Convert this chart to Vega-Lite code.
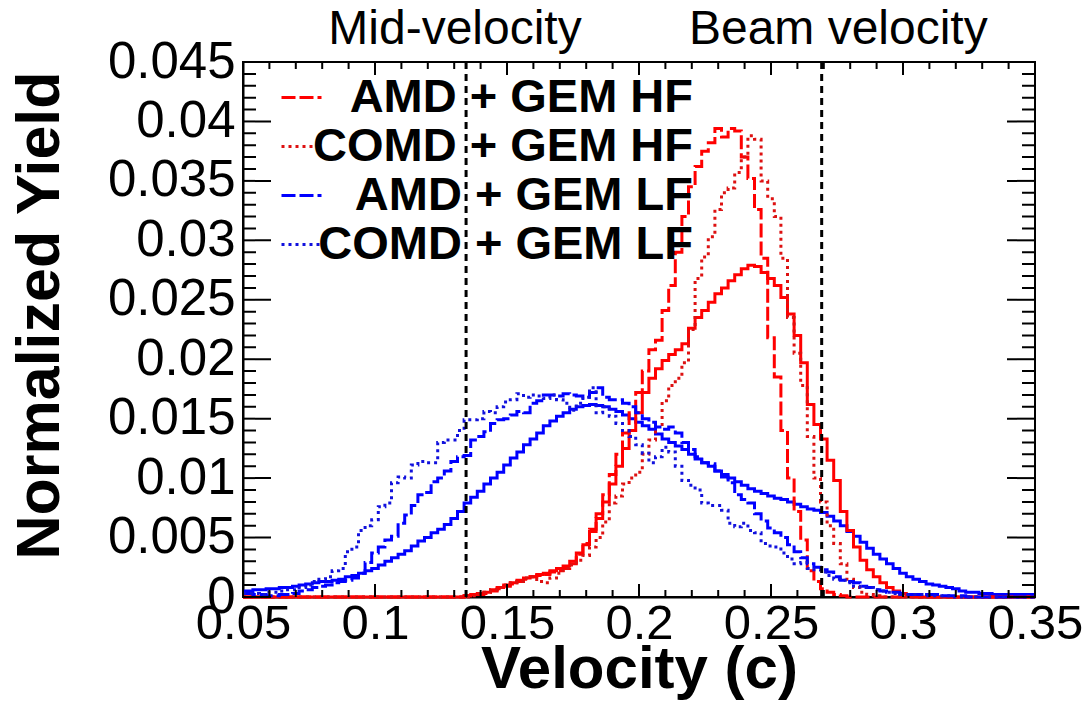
{
  "$schema": "https://vega.github.io/schema/vega-lite/v6.json",
  "width": 792,
  "height": 535,
  "autosize": "none",
  "padding": {"left": 243, "top": 62, "right": 57, "bottom": 109},
  "background": "white",
  "config": {
    "view": {"stroke": "black", "strokeWidth": 2},
    "font": "Liberation Sans",
    "axis": {"domainColor": "black", "domainWidth": 2, "tickColor": "black", "tickWidth": 2, "tickOpacity": 1, "grid": false, "labelColor": "black", "titleColor": "black", "labelFont": "Liberation Sans", "titleFont": "Liberation Sans", "labelOverlap": false, "labelFlush": false}
  },
  "datasets": {
    "xmaj": [{"t":0.05},{"t":0.1},{"t":0.15},{"t":0.2},{"t":0.25},{"t":0.3},{"t":0.35}],
    "xmin": [{"t":0.06},{"t":0.07},{"t":0.08},{"t":0.09},{"t":0.11},{"t":0.12},{"t":0.13},{"t":0.14},{"t":0.16},{"t":0.17},{"t":0.18},{"t":0.19},{"t":0.21},{"t":0.22},{"t":0.23},{"t":0.24},{"t":0.26},{"t":0.27},{"t":0.28},{"t":0.29},{"t":0.31},{"t":0.32},{"t":0.33},{"t":0.34}],
    "ymaj": [{"t":0},{"t":0.005},{"t":0.01},{"t":0.015},{"t":0.02},{"t":0.025},{"t":0.03},{"t":0.035},{"t":0.04},{"t":0.045}],
    "ymin": [{"t":0.001},{"t":0.002},{"t":0.003},{"t":0.004},{"t":0.006},{"t":0.007},{"t":0.008},{"t":0.009},{"t":0.011},{"t":0.012},{"t":0.013},{"t":0.014},{"t":0.016},{"t":0.017},{"t":0.018},{"t":0.019},{"t":0.021},{"t":0.022},{"t":0.023},{"t":0.024},{"t":0.026},{"t":0.027},{"t":0.028},{"t":0.029},{"t":0.031},{"t":0.032},{"t":0.033},{"t":0.034},{"t":0.036},{"t":0.037},{"t":0.038},{"t":0.039},{"t":0.041},{"t":0.042},{"t":0.043},{"t":0.044}]
  },
  "data": {"values": [
    {"v":0.05,"lf":0.0005,"al":0.0003,"cl":0.0003,"hf":0,"ah":0,"ch":0},
    {"v":0.0525,"lf":0.0005,"al":0.0003,"cl":0.0003,"hf":0,"ah":0,"ch":0},
    {"v":0.055,"lf":0.0006,"al":0.0002,"cl":0.0003,"hf":0,"ah":0,"ch":0},
    {"v":0.0575,"lf":0.0006,"al":0.0002,"cl":0.0002,"hf":0,"ah":0,"ch":0},
    {"v":0.06,"lf":0.0007,"al":0.0001,"cl":0.0004,"hf":0,"ah":0,"ch":0},
    {"v":0.0625,"lf":0.0007,"al":0.0001,"cl":0.0004,"hf":0,"ah":0,"ch":0},
    {"v":0.065,"lf":0.0008,"al":0.0002,"cl":0.0005,"hf":0,"ah":0,"ch":0},
    {"v":0.0675,"lf":0.0008,"al":0.0002,"cl":0.0006,"hf":0,"ah":0,"ch":0},
    {"v":0.07,"lf":0.0009,"al":0.0003,"cl":0.0006,"hf":0,"ah":0,"ch":0},
    {"v":0.0725,"lf":0.0010,"al":0.0005,"cl":0.0008,"hf":0,"ah":0,"ch":0},
    {"v":0.075,"lf":0.0011,"al":0.0006,"cl":0.0010,"hf":0,"ah":0,"ch":0},
    {"v":0.0775,"lf":0.0012,"al":0.0008,"cl":0.0013,"hf":0,"ah":0,"ch":0},
    {"v":0.08,"lf":0.0013,"al":0.0009,"cl":0.0015,"hf":0,"ah":0,"ch":0},
    {"v":0.0825,"lf":0.0013,"al":0.0010,"cl":0.0017,"hf":0,"ah":0,"ch":0},
    {"v":0.085,"lf":0.0014,"al":0.0012,"cl":0.0022,"hf":0,"ah":0,"ch":0},
    {"v":0.0875,"lf":0.0015,"al":0.0013,"cl":0.0024,"hf":0,"ah":0,"ch":0},
    {"v":0.09,"lf":0.0017,"al":0.0014,"cl":0.0038,"hf":0,"ah":0,"ch":0},
    {"v":0.0925,"lf":0.0018,"al":0.0016,"cl":0.0042,"hf":0,"ah":0,"ch":0},
    {"v":0.095,"lf":0.0020,"al":0.0020,"cl":0.0056,"hf":0,"ah":0,"ch":0},
    {"v":0.0975,"lf":0.0022,"al":0.0029,"cl":0.0060,"hf":0,"ah":0,"ch":0},
    {"v":0.1,"lf":0.0024,"al":0.0037,"cl":0.0065,"hf":0,"ah":0,"ch":0},
    {"v":0.1025,"lf":0.0027,"al":0.0042,"cl":0.0076,"hf":0,"ah":0,"ch":0},
    {"v":0.105,"lf":0.0030,"al":0.0048,"cl":0.0079,"hf":0,"ah":0,"ch":0},
    {"v":0.1075,"lf":0.0033,"al":0.0051,"cl":0.0096,"hf":0,"ah":0,"ch":0},
    {"v":0.11,"lf":0.0036,"al":0.0062,"cl":0.0101,"hf":0,"ah":0,"ch":0},
    {"v":0.1125,"lf":0.0039,"al":0.0069,"cl":0.0100,"hf":0,"ah":0,"ch":0},
    {"v":0.115,"lf":0.0043,"al":0.0077,"cl":0.0111,"hf":0,"ah":0,"ch":0},
    {"v":0.1175,"lf":0.0047,"al":0.0086,"cl":0.0114,"hf":0,"ah":0,"ch":0},
    {"v":0.12,"lf":0.0050,"al":0.0088,"cl":0.0113,"hf":0,"ah":0,"ch":0},
    {"v":0.1225,"lf":0.0054,"al":0.0097,"cl":0.0113,"hf":0,"ah":0,"ch":0},
    {"v":0.125,"lf":0.0057,"al":0.0100,"cl":0.0130,"hf":0,"ah":0,"ch":0},
    {"v":0.1275,"lf":0.0061,"al":0.0106,"cl":0.0132,"hf":0,"ah":0,"ch":0},
    {"v":0.13,"lf":0.0066,"al":0.0114,"cl":0.0132,"hf":0,"ah":0,"ch":0},
    {"v":0.1325,"lf":0.0072,"al":0.0118,"cl":0.0140,"hf":0,"ah":0,"ch":0},
    {"v":0.135,"lf":0.0079,"al":0.0119,"cl":0.0149,"hf":0.0001,"ah":0.0001,"ch":0},
    {"v":0.1375,"lf":0.0084,"al":0.0132,"cl":0.0149,"hf":0.0002,"ah":0.0002,"ch":0.0001},
    {"v":0.14,"lf":0.0089,"al":0.0135,"cl":0.0150,"hf":0.0003,"ah":0.0002,"ch":0.0003},
    {"v":0.1425,"lf":0.0095,"al":0.0139,"cl":0.0156,"hf":0.0004,"ah":0.0003,"ch":0.0004},
    {"v":0.145,"lf":0.0100,"al":0.0146,"cl":0.0155,"hf":0.0006,"ah":0.0005,"ch":0.0006},
    {"v":0.1475,"lf":0.0105,"al":0.0149,"cl":0.0160,"hf":0.0008,"ah":0.0007,"ch":0.0008},
    {"v":0.15,"lf":0.0111,"al":0.0150,"cl":0.0164,"hf":0.0010,"ah":0.0009,"ch":0.0010},
    {"v":0.1525,"lf":0.0117,"al":0.0153,"cl":0.0166,"hf":0.0012,"ah":0.0011,"ch":0.0012},
    {"v":0.155,"lf":0.0122,"al":0.0156,"cl":0.0171,"hf":0.0014,"ah":0.0013,"ch":0.0013},
    {"v":0.1575,"lf":0.0128,"al":0.0155,"cl":0.0168,"hf":0.0016,"ah":0.0015,"ch":0.0016},
    {"v":0.16,"lf":0.0133,"al":0.0163,"cl":0.0170,"hf":0.0017,"ah":0.0017,"ch":0.0017},
    {"v":0.1625,"lf":0.0138,"al":0.0165,"cl":0.0169,"hf":0.0019,"ah":0.0018,"ch":0.0013},
    {"v":0.165,"lf":0.0144,"al":0.0170,"cl":0.0167,"hf":0.0020,"ah":0.0019,"ch":0.0012},
    {"v":0.1675,"lf":0.0148,"al":0.0170,"cl":0.0170,"hf":0.0022,"ah":0.0021,"ch":0.0016},
    {"v":0.17,"lf":0.0152,"al":0.0169,"cl":0.0166,"hf":0.0024,"ah":0.0022,"ch":0.0020},
    {"v":0.1725,"lf":0.0155,"al":0.0171,"cl":0.0163,"hf":0.0026,"ah":0.0024,"ch":0.0024},
    {"v":0.175,"lf":0.0158,"al":0.0170,"cl":0.0157,"hf":0.0030,"ah":0.0028,"ch":0.0027},
    {"v":0.1775,"lf":0.0160,"al":0.0169,"cl":0.0163,"hf":0.0037,"ah":0.0036,"ch":0.0031},
    {"v":0.18,"lf":0.0161,"al":0.0168,"cl":0.0168,"hf":0.0044,"ah":0.0045,"ch":0.0035},
    {"v":0.1825,"lf":0.0162,"al":0.0172,"cl":0.0176,"hf":0.0055,"ah":0.0057,"ch":0.0042},
    {"v":0.185,"lf":0.0161,"al":0.0176,"cl":0.0155,"hf":0.0066,"ah":0.0070,"ch":0.0050},
    {"v":0.1875,"lf":0.0160,"al":0.0168,"cl":0.0160,"hf":0.0080,"ah":0.0086,"ch":0.0063},
    {"v":0.19,"lf":0.0158,"al":0.0166,"cl":0.0152,"hf":0.0095,"ah":0.0103,"ch":0.0079},
    {"v":0.1925,"lf":0.0156,"al":0.0166,"cl":0.0146,"hf":0.0110,"ah":0.0120,"ch":0.0085},
    {"v":0.195,"lf":0.0153,"al":0.0163,"cl":0.0140,"hf":0.0125,"ah":0.0138,"ch":0.0095},
    {"v":0.1975,"lf":0.0150,"al":0.0160,"cl":0.0135,"hf":0.0140,"ah":0.0155,"ch":0.0100},
    {"v":0.2,"lf":0.0147,"al":0.0155,"cl":0.0128,"hf":0.0155,"ah":0.0172,"ch":0.0105},
    {"v":0.2025,"lf":0.0144,"al":0.0150,"cl":0.0121,"hf":0.0172,"ah":0.0190,"ch":0.0120},
    {"v":0.205,"lf":0.0141,"al":0.0147,"cl":0.0113,"hf":0.0184,"ah":0.0208,"ch":0.0132},
    {"v":0.2075,"lf":0.0137,"al":0.0143,"cl":0.0118,"hf":0.0192,"ah":0.0216,"ch":0.0145},
    {"v":0.21,"lf":0.0133,"al":0.0141,"cl":0.0126,"hf":0.0199,"ah":0.0241,"ch":0.0165},
    {"v":0.2125,"lf":0.0130,"al":0.0143,"cl":0.0122,"hf":0.0204,"ah":0.0262,"ch":0.0178},
    {"v":0.215,"lf":0.0127,"al":0.0138,"cl":0.0110,"hf":0.0208,"ah":0.0290,"ch":0.0184},
    {"v":0.2175,"lf":0.0124,"al":0.0130,"cl":0.0098,"hf":0.0213,"ah":0.0320,"ch":0.0197},
    {"v":0.22,"lf":0.0120,"al":0.0124,"cl":0.0094,"hf":0.0226,"ah":0.0345,"ch":0.0225},
    {"v":0.2225,"lf":0.0116,"al":0.0118,"cl":0.0090,"hf":0.0235,"ah":0.0362,"ch":0.0268},
    {"v":0.225,"lf":0.0113,"al":0.0113,"cl":0.0079,"hf":0.0241,"ah":0.0375,"ch":0.0286},
    {"v":0.2275,"lf":0.0110,"al":0.0112,"cl":0.0077,"hf":0.0248,"ah":0.0382,"ch":0.0303},
    {"v":0.23,"lf":0.0106,"al":0.0106,"cl":0.0077,"hf":0.0255,"ah":0.0394,"ch":0.0326},
    {"v":0.2325,"lf":0.0103,"al":0.0101,"cl":0.0073,"hf":0.0260,"ah":0.0387,"ch":0.0340},
    {"v":0.235,"lf":0.0100,"al":0.0096,"cl":0.0062,"hf":0.0266,"ah":0.0394,"ch":0.0344},
    {"v":0.2375,"lf":0.0097,"al":0.0086,"cl":0.0059,"hf":0.0271,"ah":0.0392,"ch":0.0357},
    {"v":0.24,"lf":0.0094,"al":0.0082,"cl":0.0062,"hf":0.0276,"ah":0.0370,"ch":0.0370},
    {"v":0.2425,"lf":0.0091,"al":0.0079,"cl":0.0056,"hf":0.0279,"ah":0.0352,"ch":0.0388},
    {"v":0.245,"lf":0.0089,"al":0.0070,"cl":0.0054,"hf":0.0278,"ah":0.0326,"ch":0.0385},
    {"v":0.2475,"lf":0.0087,"al":0.0064,"cl":0.0045,"hf":0.0273,"ah":0.0285,"ch":0.0350},
    {"v":0.25,"lf":0.0085,"al":0.0058,"cl":0.0043,"hf":0.0268,"ah":0.0218,"ch":0.0335},
    {"v":0.2525,"lf":0.0083,"al":0.0054,"cl":0.0042,"hf":0.0262,"ah":0.0185,"ch":0.0320},
    {"v":0.255,"lf":0.0082,"al":0.0050,"cl":0.0037,"hf":0.0252,"ah":0.0140,"ch":0.0285},
    {"v":0.2575,"lf":0.0080,"al":0.0044,"cl":0.0032,"hf":0.0238,"ah":0.0100,"ch":0.0235},
    {"v":0.26,"lf":0.0078,"al":0.0038,"cl":0.0028,"hf":0.0220,"ah":0.0072,"ch":0.0205},
    {"v":0.2625,"lf":0.0076,"al":0.0033,"cl":0.0029,"hf":0.0197,"ah":0.0048,"ch":0.0178},
    {"v":0.265,"lf":0.0074,"al":0.0028,"cl":0.0024,"hf":0.0162,"ah":0.0022,"ch":0.0135},
    {"v":0.2675,"lf":0.0073,"al":0.0025,"cl":0.0023,"hf":0.0145,"ah":0.0013,"ch":0.0100},
    {"v":0.27,"lf":0.0071,"al":0.0023,"cl":0.0021,"hf":0.0133,"ah":0.0007,"ch":0.0080},
    {"v":0.2725,"lf":0.0068,"al":0.0021,"cl":0.0018,"hf":0.0115,"ah":0.0004,"ch":0.0060},
    {"v":0.275,"lf":0.0064,"al":0.0017,"cl":0.0015,"hf":0.0098,"ah":0.0002,"ch":0.0045},
    {"v":0.2775,"lf":0.0060,"al":0.0014,"cl":0.0014,"hf":0.0072,"ah":0.0001,"ch":0.0028},
    {"v":0.28,"lf":0.0055,"al":0.0013,"cl":0.0012,"hf":0.0056,"ah":0,"ch":0.0015},
    {"v":0.2825,"lf":0.0051,"al":0.0012,"cl":0.0009,"hf":0.0042,"ah":0,"ch":0.0008},
    {"v":0.285,"lf":0.0046,"al":0.0009,"cl":0.0008,"hf":0.0031,"ah":0,"ch":0.0004},
    {"v":0.2875,"lf":0.0041,"al":0.0008,"cl":0.0008,"hf":0.0023,"ah":0,"ch":0.0002},
    {"v":0.29,"lf":0.0036,"al":0.0006,"cl":0.0006,"hf":0.0017,"ah":0,"ch":0.0001},
    {"v":0.2925,"lf":0.0032,"al":0.0005,"cl":0.0005,"hf":0.0012,"ah":0,"ch":0},
    {"v":0.295,"lf":0.0028,"al":0.0004,"cl":0.0004,"hf":0.0008,"ah":0,"ch":0},
    {"v":0.2975,"lf":0.0024,"al":0.0004,"cl":0.0003,"hf":0.0005,"ah":0,"ch":0},
    {"v":0.3,"lf":0.0020,"al":0.0003,"cl":0.0002,"hf":0.0003,"ah":0,"ch":0},
    {"v":0.3025,"lf":0.0017,"al":0.0002,"cl":0.0002,"hf":0.0002,"ah":0,"ch":0},
    {"v":0.305,"lf":0.0015,"al":0.0002,"cl":0.0002,"hf":0.0001,"ah":0,"ch":0},
    {"v":0.3075,"lf":0.0013,"al":0.0002,"cl":0.0002,"hf":0,"ah":0,"ch":0},
    {"v":0.31,"lf":0.0011,"al":0.0002,"cl":0.0001,"hf":0,"ah":0,"ch":0},
    {"v":0.3125,"lf":0.0010,"al":0.0002,"cl":0.0001,"hf":0,"ah":0,"ch":0},
    {"v":0.315,"lf":0.0009,"al":0.0001,"cl":0.0001,"hf":0,"ah":0,"ch":0},
    {"v":0.3175,"lf":0.0008,"al":0.0001,"cl":0.0001,"hf":0,"ah":0,"ch":0},
    {"v":0.32,"lf":0.0007,"al":0.0001,"cl":0,"hf":0,"ah":0,"ch":0},
    {"v":0.3225,"lf":0.0005,"al":0.0001,"cl":0,"hf":0,"ah":0,"ch":0},
    {"v":0.325,"lf":0.0004,"al":0,"cl":0,"hf":0,"ah":0,"ch":0},
    {"v":0.3275,"lf":0.0004,"al":0,"cl":0,"hf":0,"ah":0,"ch":0},
    {"v":0.33,"lf":0.0003,"al":0,"cl":0,"hf":0,"ah":0,"ch":0},
    {"v":0.3325,"lf":0.0003,"al":0,"cl":0,"hf":0,"ah":0,"ch":0},
    {"v":0.335,"lf":0.0002,"al":0,"cl":0,"hf":0,"ah":0,"ch":0},
    {"v":0.3375,"lf":0.0002,"al":0,"cl":0,"hf":0,"ah":0,"ch":0},
    {"v":0.34,"lf":0.0002,"al":0,"cl":0,"hf":0,"ah":0,"ch":0},
    {"v":0.3425,"lf":0.0002,"al":0,"cl":0,"hf":0,"ah":0,"ch":0},
    {"v":0.345,"lf":0.0002,"al":0,"cl":0,"hf":0,"ah":0,"ch":0},
    {"v":0.3475,"lf":0.0002,"al":0,"cl":0,"hf":0,"ah":0,"ch":0},
    {"v":0.35,"lf":0.0002,"al":0,"cl":0,"hf":0,"ah":0,"ch":0}
  ]},
  "layer": [
    {
      "mark": {"type": "line", "interpolate": "step", "color": "#0000ff", "strokeWidth": 3},
      "encoding": {
        "x": {
          "field": "v", "type": "quantitative", "title": "Velocity (c)",
          "scale": {"domain": [0.05, 0.35], "nice": false, "zero": false},
          "axis": {
            "orient": "bottom", "ticks": false,
            "values": [0.05, 0.1, 0.15, 0.2, 0.25, 0.3, 0.35],
            "labelExpr": "format(datum.value,'~g')",
            "labelFontSize": 49, "labelPadding": 2,
            "titleFontSize": 60, "titleFontWeight": "bold", "titlePadding": -8
          }
        },
        "y": {
          "field": "lf", "type": "quantitative", "title": "Normalized Yield",
          "scale": {"domain": [0, 0.045], "nice": false},
          "axis": {
            "orient": "left", "ticks": false,
            "values": [0, 0.005, 0.01, 0.015, 0.02, 0.025, 0.03, 0.035, 0.04, 0.045],
            "labelExpr": "format(datum.value,'~g')",
            "labelFontSize": 51, "labelPadding": 8,
            "titleFontSize": 61, "titleFontWeight": "bold", "titlePadding": 36, "titleY": 253
          }
        }
      }
    },
    {
      "mark": {"type": "line", "interpolate": "step", "color": "#ff0000", "strokeWidth": 3},
      "encoding": {
        "x": {"field": "v", "type": "quantitative", "scale": {"domain": [0.05, 0.35], "nice": false, "zero": false}, "axis": null},
        "y": {"field": "hf", "type": "quantitative", "scale": {"domain": [0, 0.045], "nice": false}, "axis": null}
      }
    },
    {
      "transform": [{"fold": ["ah", "ch", "al", "cl"], "as": ["series", "yield"]}],
      "mark": {"type": "line", "interpolate": "step", "strokeWidth": 3},
      "encoding": {
        "x": {"field": "v", "type": "quantitative", "scale": {"domain": [0.05, 0.35], "nice": false, "zero": false}, "axis": null},
        "y": {"field": "yield", "type": "quantitative", "scale": {"domain": [0, 0.045], "nice": false}, "axis": null},
        "color": {
          "field": "series", "type": "nominal",
          "scale": {"domain": ["ah", "ch", "al", "cl"], "range": ["#ff0000", "#dd1111", "#0000ff", "#1111dd"]},
          "legend": {
            "title": null, "orient": "none", "legendX": 35, "legendY": 12, "padding": 0,
            "symbolType": "stroke", "symbolSize": 1600, "symbolStrokeWidth": 3,
            "labelFontSize": 47, "labelFontWeight": "bold", "labelColor": "black",
            "labelAlign": "right", "labelOffset": 368, "labelLimit": 0, "rowPadding": 1,
            "labelExpr": "datum.label == 'ah' ? 'AMD + GEM HF' : datum.label == 'ch' ? 'COMD + GEM HF' : datum.label == 'al' ? 'AMD + GEM LF' : 'COMD + GEM LF'"
          }
        },
        "strokeDash": {
          "field": "series", "type": "nominal",
          "scale": {"domain": ["ah", "ch", "al", "cl"], "range": [[14, 4], [3, 4], [14, 4], [3, 4]]},
          "legend": {
            "title": null, "orient": "none", "legendX": 35, "legendY": 12, "padding": 0,
            "symbolType": "stroke", "symbolSize": 1600, "symbolStrokeWidth": 3,
            "labelFontSize": 47, "labelFontWeight": "bold", "labelColor": "black",
            "labelAlign": "right", "labelOffset": 368, "labelLimit": 0, "rowPadding": 1,
            "labelExpr": "datum.label == 'ah' ? 'AMD + GEM HF' : datum.label == 'ch' ? 'COMD + GEM HF' : datum.label == 'al' ? 'AMD + GEM LF' : 'COMD + GEM LF'"
          }
        }
      }
    },
    {
      "data": {"values": [{"v": 0.1345}, {"v": 0.2692}]},
      "mark": {"type": "rule", "color": "black", "strokeWidth": 3, "strokeDash": [7, 5]},
      "encoding": {
        "x": {"field": "v", "type": "quantitative", "scale": {"domain": [0.05, 0.35], "nice": false, "zero": false}, "axis": null}
      }
    },
    {
      "data": {"values": [{"label": "Mid-velocity", "v": 0.1303, "ty": 0.0465}, {"label": "Beam velocity", "v": 0.2755, "ty": 0.0465}]},
      "mark": {"type": "text", "font": "Liberation Sans", "fontSize": 48, "color": "black", "align": "center", "baseline": "alphabetic"},
      "encoding": {
        "x": {"field": "v", "type": "quantitative", "scale": {"domain": [0.05, 0.35], "nice": false, "zero": false}, "axis": null},
        "y": {"field": "ty", "type": "quantitative", "scale": {"domain": [0, 0.045], "nice": false}, "axis": null},
        "text": {"field": "label"}
      }
    },
    {
      "data": {"name": "xmaj"},
      "mark": {"type": "rule", "color": "black", "strokeWidth": 2, "strokeDash": [13, 509]},
      "encoding": {
        "x": {"field": "t", "type": "quantitative", "scale": {"domain": [0.05, 0.35], "nice": false, "zero": false}, "axis": null}
      }
    },
    {
      "data": {"name": "xmin"},
      "mark": {"type": "rule", "color": "black", "strokeWidth": 2, "strokeDash": [7, 521]},
      "encoding": {
        "x": {"field": "t", "type": "quantitative", "scale": {"domain": [0.05, 0.35], "nice": false, "zero": false}, "axis": null}
      }
    },
    {
      "data": {"name": "ymaj"},
      "mark": {"type": "rule", "color": "black", "strokeWidth": 2, "strokeDash": [28, 736]},
      "encoding": {
        "y": {"field": "t", "type": "quantitative", "scale": {"domain": [0, 0.045], "nice": false}, "axis": null}
      }
    },
    {
      "data": {"name": "ymin"},
      "mark": {"type": "rule", "color": "black", "strokeWidth": 2, "strokeDash": [13, 766]},
      "encoding": {
        "y": {"field": "t", "type": "quantitative", "scale": {"domain": [0, 0.045], "nice": false}, "axis": null}
      }
    }
  ],
  "resolve": {"axis": {"x": "independent", "y": "independent"}}
}
